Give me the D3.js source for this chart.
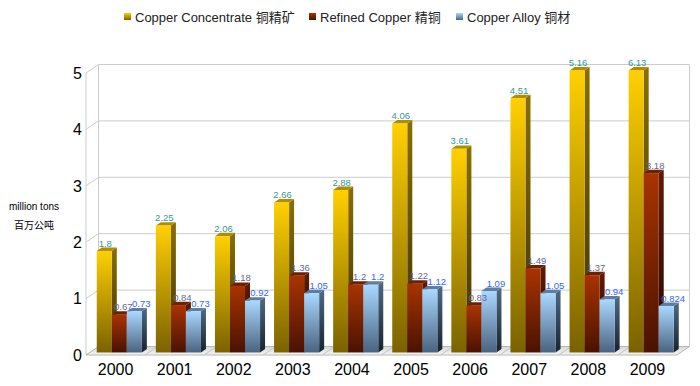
<!DOCTYPE html>
<html>
<head>
<meta charset="utf-8">
<script src="https://cdn.jsdelivr.net/npm/d3@7"></script>
<style>
  body { margin: 0; background: #fff; }
  svg { display: block; font-family: "Liberation Sans", Arial, "Noto Sans CJK SC", sans-serif; }
</style>
</head>
<body>
<div id="chart"></div>
<script>
const years = ["2000", "2001", "2002", "2003", "2004", "2005", "2006", "2007", "2008", "2009"];
const concentrate = [1.8, 2.25, 2.06, 2.66, 2.88, 4.06, 3.61, 4.51, 5.16, 6.13];
const refined = [0.67, 0.84, 1.18, 1.36, 1.2, 1.22, 0.83, 1.49, 1.37, 3.18];
const alloy = [0.73, 0.73, 0.92, 1.05, 1.2, 1.12, 1.09, 1.05, 0.94, 0.824];
const seriesNames = ["Copper Concentrate 铜精矿", "Refined Copper 精铜", "Copper Alloy 铜材"];
const yTicks = [0, 1, 2, 3, 4, 5];

const width = 700, height = 386;
const plotLeft = 86, plotRight = 677, plotBottom = 355, plotTop = 73;
const depth = { x: 12.5, y: -8.5 };

const series = [
  { name: seriesNames[0], values: concentrate, front: ["#ffd000", "#7a6200"], side: ["#8a6e00", "#3d3000"], topc: "#b08c00", label: "#339999" },
  { name: seriesNames[1], values: refined, front: ["#a83400", "#4a1200"], side: ["#5e1c00", "#260700"], topc: "#6e2000", label: "#666699" },
  { name: seriesNames[2], values: alloy, front: ["#aad8ff", "#4a6380"], side: ["#4f6a86", "#18222e"], topc: "#5f7d9c", label: "#3366ff" }
];

const svg = d3.select("#chart").append("svg")
  .attr("width", width).attr("height", height);

const defs = svg.append("defs");
series.forEach((s, i) => {
  const gf = defs.append("linearGradient").attr("id", "front" + i)
    .attr("x1", 0).attr("y1", 0).attr("x2", 0).attr("y2", 1);
  gf.append("stop").attr("offset", "0%").attr("stop-color", s.front[0]);
  gf.append("stop").attr("offset", "100%").attr("stop-color", s.front[1]);
  const gs = defs.append("linearGradient").attr("id", "side" + i)
    .attr("x1", 0).attr("y1", 0).attr("x2", 0).attr("y2", 1);
  gs.append("stop").attr("offset", "0%").attr("stop-color", s.side[0]);
  gs.append("stop").attr("offset", "100%").attr("stop-color", s.side[1]);
});
const floorGrad = defs.append("linearGradient").attr("id", "floor")
  .attr("x1", 0).attr("y1", 0).attr("x2", 0).attr("y2", 1);
floorGrad.append("stop").attr("offset", "0%").attr("stop-color", "#d8d8d8");
floorGrad.append("stop").attr("offset", "100%").attr("stop-color", "#f4f4f4");

const x = d3.scaleBand().domain(years).range([plotLeft, plotRight]).paddingInner(0).paddingOuter(0);
const inner = d3.scaleBand().domain([0, 1, 2]).range([7, x.bandwidth() - 7]);
const y = d3.scaleLinear().domain([0, 5]).range([plotBottom, plotTop]);

const grid = "#cccccc";

// back wall grid
svg.append("g").selectAll("line").data(yTicks).join("line")
  .attr("x1", plotLeft + depth.x).attr("x2", plotRight + depth.x)
  .attr("y1", d => y(d) + depth.y).attr("y2", d => y(d) + depth.y)
  .attr("stroke", grid);
svg.append("line")
  .attr("x1", plotRight + depth.x).attr("x2", plotRight + depth.x)
  .attr("y1", y(5) + depth.y).attr("y2", y(0) + depth.y).attr("stroke", grid);

// left wall
svg.append("g").selectAll("line").data(yTicks).join("line")
  .attr("x1", plotLeft).attr("x2", plotLeft + depth.x)
  .attr("y1", d => y(d)).attr("y2", d => y(d) + depth.y)
  .attr("stroke", grid);
svg.append("line").attr("x1", plotLeft).attr("x2", plotLeft)
  .attr("y1", y(5)).attr("y2", y(0)).attr("stroke", grid);
svg.append("line").attr("x1", plotLeft + depth.x).attr("x2", plotLeft + depth.x)
  .attr("y1", y(5) + depth.y).attr("y2", y(0) + depth.y).attr("stroke", grid);

// floor
svg.append("polygon")
  .attr("points", [[plotLeft, y(0)], [plotRight, y(0)], [plotRight + depth.x, y(0) + depth.y], [plotLeft + depth.x, y(0) + depth.y]].join(" "))
  .attr("fill", "url(#floor)").attr("stroke", "#b8b8b8");
svg.append("g").selectAll("line").data(years.slice(1)).join("line")
  .attr("x1", d => x(d)).attr("x2", d => x(d) + depth.x)
  .attr("y1", y(0)).attr("y2", y(0) + depth.y)
  .attr("stroke", "#c4c4c4");

// y tick labels
svg.append("g").selectAll("text").data(yTicks).join("text")
  .attr("x", 82).attr("y", d => y(d)).attr("dy", "0.36em")
  .attr("text-anchor", "end").attr("font-size", 16).attr("fill", "#000")
  .text(d => d);

// year labels
svg.append("g").selectAll("text").data(years).join("text")
  .attr("x", d => x(d) + x.bandwidth() / 2).attr("y", 375)
  .attr("text-anchor", "middle").attr("font-size", 16).attr("fill", "#000")
  .text(d => d);

// y title
const yTitle = svg.append("text").attr("x", 34).attr("text-anchor", "middle")
  .attr("font-size", 10).attr("fill", "#000");
yTitle.append("tspan").attr("x", 34).attr("y", 210).text("million tons");
yTitle.append("tspan").attr("x", 34).attr("y", 229).text("百万公吨");

// bars
const off = { x: depth.x * 0.3, y: depth.y * 0.3 };
const bd = { x: depth.x * 0.4, y: depth.y * 0.4 };
const bars = svg.append("g");
const labels = svg.append("g");
years.forEach((yr, gi) => {
  series.forEach((s, si) => {
    const v = s.values[gi];
    const x0 = x(yr) + inner(si) + off.x;
    const w = inner.bandwidth();
    const yb = y(0) + off.y;
    const yt = y(Math.min(v, 5)) + off.y;
    const g = bars.append("g");
    g.append("polygon")
      .attr("points", [[x0 + w, yt], [x0 + w + bd.x, yt + bd.y], [x0 + w + bd.x, yb + bd.y], [x0 + w, yb]].join(" "))
      .attr("fill", `url(#side${si})`);
    g.append("polygon")
      .attr("points", [[x0, yt], [x0 + bd.x, yt + bd.y], [x0 + w + bd.x, yt + bd.y], [x0 + w, yt]].join(" "))
      .attr("fill", s.topc);
    g.append("rect")
      .attr("x", x0).attr("y", yt).attr("width", w).attr("height", yb - yt)
      .attr("fill", `url(#front${si})`);
    labels.append("text")
      .attr("x", x0 + w / 2 + 1 + si * 3).attr("y", yt + bd.y - 1)
      .attr("text-anchor", "middle").attr("font-size", 9.5)
      .attr("fill", s.label)
      .text(v);
  });
});

// legend
const legendItems = [
  { x: 124, s: 0 }, { x: 309, s: 1 }, { x: 456, s: 2 }
];
const legend = svg.append("g");
legendItems.forEach(it => {
  const s = series[it.s];
  legend.append("rect").attr("x", it.x).attr("y", 13).attr("width", 7).attr("height", 7)
    .attr("fill", `url(#front${it.s})`);
  legend.append("text").attr("x", it.x + 11).attr("y", 21.5)
    .attr("font-size", 13).attr("fill", "#222").text(s.name);
});
</script>
</body>
</html>
